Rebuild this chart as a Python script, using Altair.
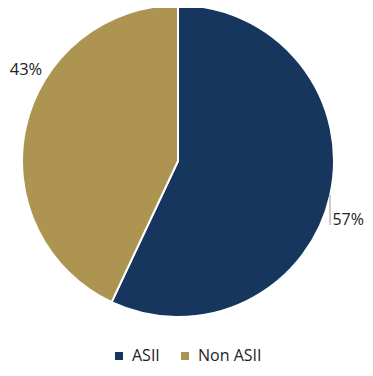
import altair as alt
import pandas as pd

categories = ["ASII", "Non ASII"]
values = [57, 43]
labels = ["57%", "43%"]
colors = ["#17365d", "#ad9551"]

df = pd.DataFrame({"cat": categories, "val": values, "lab": labels})

CX, CY, R = 170, 153, 156

base = alt.Chart(df)

color = alt.Color(
    "cat:N",
    scale=alt.Scale(domain=categories, range=colors),
    sort=categories,
    legend=alt.Legend(
        title=None,
        orient="none",
        direction="horizontal",
        legendX=103,
        legendY=340,
        symbolType="square",
        symbolSize=64,
        symbolStrokeWidth=0,
        labelFont="Open Sans",
        labelFontSize=16,
        labelColor="#222222",
        labelOffset=5,
        columnPadding=17,
    ),
)

pie = base.mark_arc(stroke="white", strokeWidth=2, radius=R).encode(
    theta=alt.Theta("val:Q", stack=True),
    color=color,
    order=alt.Order("cat:N", sort="ascending"),
    x=alt.value(CX),
    y=alt.value(CY),
)

lab57 = base.transform_filter(alt.datum.cat == "ASII").mark_text(
    font="Open Sans", fontSize=16, color="#222222", align="right", dx=186, dy=59
).encode(text="lab:N", x=alt.value(CX), y=alt.value(CY))

lab43 = base.transform_filter(alt.datum.cat == "Non ASII").mark_text(
    font="Open Sans", fontSize=16.5, color="#222222", dx=-152, dy=-91
).encode(text="lab:N", x=alt.value(CX), y=alt.value(CY))

leader = base.transform_filter(alt.datum.cat == "ASII").mark_rule(
    color="#999999", strokeWidth=1
).encode(x=alt.value(CX + 152), y=alt.value(CY + 34), y2=alt.value(CY + 64))

chart = (
    alt.layer(pie, leader, lab57, lab43)
    .properties(width=357, height=360, padding=0, autosize=alt.AutoSizeParams(type="none"))
    .configure_view(stroke=None)
)

chart.save("out.html", embed_options={"renderer": "svg", "actions": False})
